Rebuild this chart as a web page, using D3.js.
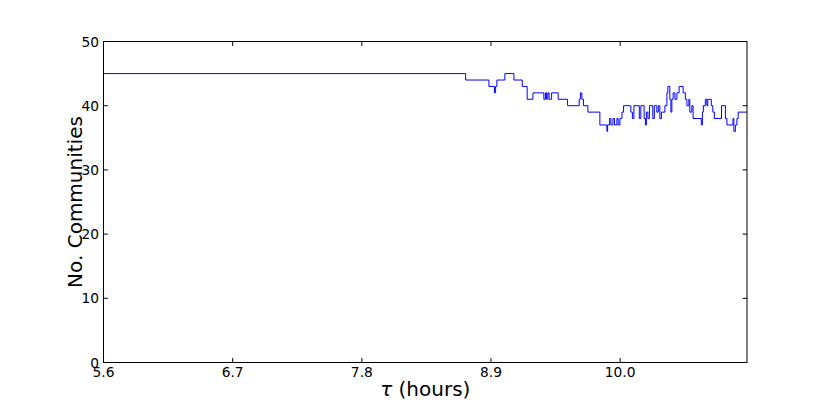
<!DOCTYPE html>
<html>
<head>
<meta charset="utf-8">
<script src="https://cdn.jsdelivr.net/npm/d3@7"></script>
<style>
  body { margin: 0; background: #fff; }
  svg { font-family: "DejaVu Sans", sans-serif; }
  .spine { fill: none; stroke: #000; stroke-width: 1; }
  .tick-mark { stroke: #000; stroke-width: 1; }
  .tick-label { font-size: 13.8px; fill: #000; }
  .axis-label { font-size: 20px; fill: #000; }
  .series { fill: none; stroke: #0000ff; stroke-width: 1; }
</style>
</head>
<body>
<div id="chart"></div>
<script>
// Time (hours) at which the community count changes
var hours = [5.6, 8.684, 8.882, 8.929, 8.939, 8.950, 9.018, 9.095, 9.166, 9.208,
  9.257, 9.350, 9.363, 9.373, 9.384, 9.395, 9.416, 9.472, 9.552, 9.651,
  9.661, 9.674, 9.687, 9.725, 9.827, 9.887, 9.893, 9.910, 9.921, 9.938,
  9.952, 9.972, 9.983, 9.998, 10.015, 10.029, 10.091, 10.104, 10.117, 10.163,
  10.176, 10.204, 10.215, 10.223, 10.236, 10.249, 10.278, 10.291, 10.312, 10.325,
  10.338, 10.351, 10.381, 10.398, 10.406, 10.423, 10.432, 10.440, 10.451, 10.466,
  10.483, 10.502, 10.536, 10.555, 10.568, 10.585, 10.593, 10.610, 10.621, 10.691,
  10.700, 10.708, 10.725, 10.738, 10.746, 10.776, 10.789, 10.802, 10.863, 10.896,
  10.909, 10.960, 10.968, 10.981, 10.994, 11.005, 11.08];

// Number of communities from that time on
var communities = [45, 44, 43, 42, 43, 44, 45, 44, 43, 41,
  42, 41, 42, 41, 42, 41, 42, 41, 40, 41,
  42, 41, 40, 39, 37, 36, 37, 38, 37, 38,
  37, 38, 37, 38, 39, 40, 39, 38, 40, 38,
  40, 38, 37, 39, 38, 40, 38, 40, 39, 40,
  38, 39, 40, 42, 43, 41, 39, 41, 42, 41,
  42, 43, 42, 41, 40, 41, 39, 40, 38, 37,
  39, 40, 41, 40, 41, 40, 39, 38, 40, 38,
  37, 38, 36, 37, 38, 39, 39];

// Axis ticks
var xTicks = [5.6, 6.7, 7.8, 8.9, 10.0];
var xTickLabels = ["5.6", "6.7", "7.8", "8.9", "10.0"];
var yTicks = [0, 10, 20, 30, 40, 50];

var xDomain = [5.6, 11.08];
var yDomain = [0, 50];

/* Chart frame
*/
var svgWidth = 830, svgHeight = 415;
var margins = { top: 41.5, bottom: 52.5, left: 103.5, right: 83 };
var width = svgWidth - margins.left - margins.right;
var height = svgHeight - margins.top - margins.bottom;
var tickLen = 4.4;

var svg = d3.select("#chart")
  .append("svg")
    .attr("width", svgWidth)
    .attr("height", svgHeight);

svg.append("rect")
    .attr("width", svgWidth)
    .attr("height", svgHeight)
    .attr("fill", "#fff");

var chart = svg.append("g")
    .attr("transform", `translate(${margins.left}, ${margins.top})`);

// Scales
var x = d3.scaleLinear().domain(xDomain).range([0, width]);
var y = d3.scaleLinear().domain(yDomain).range([height, 0]);

/* Draw the community count as a step line
*/
var points = hours.map(function(d, i) { return [d, communities[i]]; });

var line = d3.line()
    .x(function(d) { return x(d[0]); })
    .y(function(d) { return y(d[1]); })
    .curve(d3.curveStepAfter);

chart.append("path")
    .datum(points)
    .attr("class", "series")
    .attr("d", line);

/* Draw the ticks (inward, on all four sides) and tick labels
*/
chart.selectAll(".x-tick-bottom")
  .data(xTicks)
  .enter()
    .append("line")
      .attr("class", "tick-mark")
      .attr("x1", function(d) { return x(d); })
      .attr("x2", function(d) { return x(d); })
      .attr("y1", height)
      .attr("y2", height - tickLen);

chart.selectAll(".x-tick-top")
  .data(xTicks)
  .enter()
    .append("line")
      .attr("class", "tick-mark")
      .attr("x1", function(d) { return x(d); })
      .attr("x2", function(d) { return x(d); })
      .attr("y1", 0)
      .attr("y2", tickLen);

chart.selectAll(".y-tick-left")
  .data(yTicks)
  .enter()
    .append("line")
      .attr("class", "tick-mark")
      .attr("x1", 0)
      .attr("x2", tickLen)
      .attr("y1", function(d) { return y(d); })
      .attr("y2", function(d) { return y(d); });

chart.selectAll(".y-tick-right")
  .data(yTicks)
  .enter()
    .append("line")
      .attr("class", "tick-mark")
      .attr("x1", width)
      .attr("x2", width - tickLen)
      .attr("y1", function(d) { return y(d); })
      .attr("y2", function(d) { return y(d); });

chart.selectAll(".x-label")
  .data(xTicks)
  .enter()
    .append("text")
      .attr("class", "tick-label")
      .attr("x", function(d) { return x(d); })
      .attr("y", height + 14.5)
      .attr("text-anchor", "middle")
      .text(function(d, i) { return xTickLabels[i]; });

chart.selectAll(".y-label")
  .data(yTicks)
  .enter()
    .append("text")
      .attr("class", "tick-label")
      .attr("x", -4.5)
      .attr("y", function(d) { return y(d) + 5; })
      .attr("text-anchor", "end")
      .text(function(d) { return d; });

/* Draw the frame on top of the line
*/
chart.append("rect")
    .attr("class", "spine")
    .attr("width", width)
    .attr("height", height);

/* Axis titles
*/
var xTitle = chart.append("text")
    .attr("class", "axis-label")
    .attr("x", width / 2)
    .attr("y", height + 33)
    .attr("text-anchor", "middle");
xTitle.append("tspan").attr("font-style", "italic").text("τ");
xTitle.append("tspan").text(" (hours)");

chart.append("text")
    .attr("class", "axis-label")
    .attr("transform", `translate(-22, ${height / 2}) rotate(-90)`)
    .attr("text-anchor", "middle")
    .text("No. Communities");
</script>
</body>
</html>
